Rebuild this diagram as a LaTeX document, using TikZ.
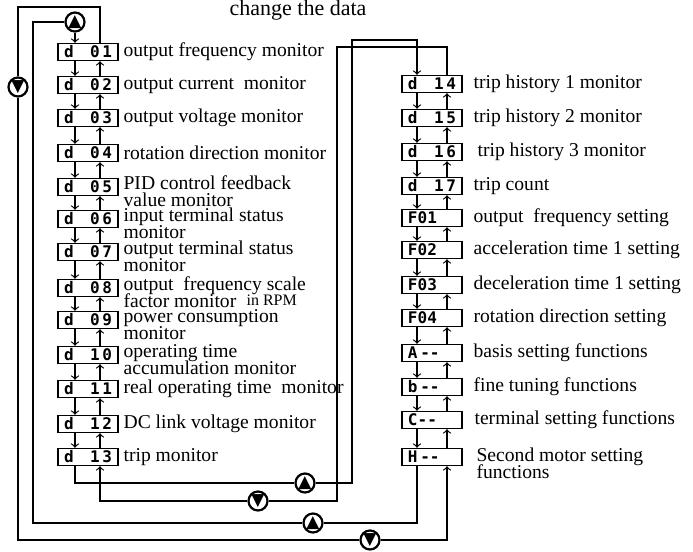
\documentclass[tikz,border=0pt]{standalone}
\usepackage{fontspec}
\setmainfont{Liberation Serif}
\newfontfamily\segfont{DejaVu Sans Mono}
\newfontfamily\symfont{DejaVu Sans}
\newcommand{\seg}[2]{\makebox[24pt]{#1\hfill#2}}
\newcommand{\lblfont}{\fontsize{9.8}{8.4}\selectfont\lineskiplimit=-10pt\relax}

\tikzset{
  disp/.style={draw, line width=0.7pt, minimum width=30pt, minimum height=8.5pt, inner sep=0pt,
    font=\segfont\bfseries\fontsize{8}{8}\selectfont},
  lbl/.style={anchor=west, inner sep=0pt, align=left, font=\lblfont},
  key/.style={circle, draw, line width=1.1pt, fill=white, minimum size=9.5pt, inner sep=0pt,
    font=\symfont\fontsize{8.5}{8.5}\selectfont}
}

\begin{document}
\begin{tikzpicture}[x=0.5pt,y=-0.5pt,line width=0.6pt]
\useasboundingbox (0,0) rectangle (693,552);
\node (title) at (298,15) [anchor=base, font=\fontsize{11}{11}\selectfont] {change the data};
% lanes
\coordinate (dnL) at (75,0);
\coordinate (upL) at (100,0);
\coordinate (dnR) at (417,0);
\coordinate (upR) at (447,0);
% left column
\node[disp] (d01) at (88,52) {\seg{d}{0\,1}};
\node[disp] (d02) at (88,85) {\seg{d}{0\,2}};
\node[disp] (d03) at (88,118) {\seg{d}{0\,3}};
\node[disp] (d04) at (88,153) {\seg{d}{0\,4}};
\node[disp] (d05) at (88,187) {\seg{d}{0\,5}};
\node[disp] (d06) at (88,219) {\seg{d}{0\,6}};
\node[disp] (d07) at (88,252) {\seg{d}{0\,7}};
\node[disp] (d08) at (88,288) {\seg{d}{0\,8}};
\node[disp] (d09) at (88,320) {\seg{d}{0\,9}};
\node[disp] (d10) at (88,355) {\seg{d}{1\,0}};
\node[disp] (d11) at (88,389) {\seg{d}{1\,1}};
\node[disp] (d12) at (88,424) {\seg{d}{1\,2}};
\node[disp] (d13) at (88,457) {\seg{d}{1\,3}};
\node (t01) at (123,52) [lbl] {output frequency monitor};
\node (t02) at (123,85) [lbl] {output current~ monitor};
\node (t03) at (123,118) [lbl] {output voltage monitor};
\node (t04) at (123,153) [lbl] {rotation direction monitor};
\node (t05) at (123,191.5) [lbl] {PID control feedback\\value monitor};
\node (t06) at (123,223.5) [lbl] {input terminal status\\monitor};
\node (t07) at (123,256.5) [lbl] {output terminal status\\monitor};
\node (t08) at (123,292) [lbl] {output~ frequency scale\\factor monitor};
\node (t09) at (123,324.5) [lbl] {power consumption\\monitor};
\node (t10) at (123,359.5) [lbl] {operating time\\accumulation monitor};
\node (t11) at (123,389) [lbl] {real operating time~ monitor};
\node (t12) at (123,424) [lbl] {DC link voltage monitor};
\node (t13) at (123,457) [lbl] {trip monitor};
\node (rpm) at (246,300) [lbl, font=\fontsize{8}{8}\selectfont] {in RPM};
% right column
\node[disp] (d14) at (432,84) {\seg{d}{1\,4}};
\node[disp] (d15) at (432,118) {\seg{d}{1\,5}};
\node[disp] (d16) at (432,152) {\seg{d}{1\,6}};
\node[disp] (d17) at (432,186) {\seg{d}{1\,7}};
\node[disp] (F01) at (432,218) {\seg{F01}{}};
\node[disp] (F02) at (432,250) {\seg{F02}{}};
\node[disp] (F03) at (432,285) {\seg{F03}{}};
\node[disp] (F04) at (432,318) {\seg{F04}{}};
\node[disp] (A) at (432,353) {\seg{A\,-{}-}{}};
\node[disp] (b) at (432,387) {\seg{b\,-{}-}{}};
\node[disp] (C) at (432,420) {\seg{C-{}-}{}};
\node[disp] (H) at (432,457) {\seg{H\,-{}-}{}};
\node (t14) at (473,84) [lbl] {trip history 1 monitor};
\node (t15) at (473,118) [lbl] {trip history 2 monitor};
\node (t16) at (477,152) [lbl] {trip history 3 monitor};
\node (t17) at (473,186) [lbl] {trip count};
\node (tF01) at (473,218) [lbl] {output~ frequency setting};
\node (tF02) at (473,250) [lbl] {acceleration time 1 setting};
\node (tF03) at (473,285) [lbl] {deceleration time 1 setting};
\node (tF04) at (473,318) [lbl] {rotation direction setting};
\node (tA) at (473,353) [lbl] {basis setting functions};
\node (tb) at (473,387) [lbl] {fine tuning functions};
\node (tC) at (474,420) [lbl] {terminal setting functions};
\node (tH) at (476,463) [lbl] {Second motor setting\\functions};
% steps inside the columns
\draw[->] (d01.south -| dnL) -- (d02.north -| dnL);
\draw[->] (d02.south -| dnL) -- (d03.north -| dnL);
\draw[->] (d03.south -| dnL) -- (d04.north -| dnL);
\draw[->] (d04.south -| dnL) -- (d05.north -| dnL);
\draw[->] (d05.south -| dnL) -- (d06.north -| dnL);
\draw[->] (d06.south -| dnL) -- (d07.north -| dnL);
\draw[->] (d07.south -| dnL) -- (d08.north -| dnL);
\draw[->] (d08.south -| dnL) -- (d09.north -| dnL);
\draw[->] (d09.south -| dnL) -- (d10.north -| dnL);
\draw[->] (d10.south -| dnL) -- (d11.north -| dnL);
\draw[->] (d11.south -| dnL) -- (d12.north -| dnL);
\draw[->] (d12.south -| dnL) -- (d13.north -| dnL);
\draw[->] (d02.north -| upL) -- (d01.south -| upL);
\draw[->] (d03.north -| upL) -- (d02.south -| upL);
\draw[->] (d04.north -| upL) -- (d03.south -| upL);
\draw[->] (d05.north -| upL) -- (d04.south -| upL);
\draw[->] (d06.north -| upL) -- (d05.south -| upL);
\draw[->] (d07.north -| upL) -- (d06.south -| upL);
\draw[->] (d08.north -| upL) -- (d07.south -| upL);
\draw[->] (d09.north -| upL) -- (d08.south -| upL);
\draw[->] (d10.north -| upL) -- (d09.south -| upL);
\draw[->] (d11.north -| upL) -- (d10.south -| upL);
\draw[->] (d12.north -| upL) -- (d11.south -| upL);
\draw[->] (d13.north -| upL) -- (d12.south -| upL);
\draw[->] (d14.south -| dnR) -- (d15.north -| dnR);
\draw[->] (d15.south -| dnR) -- (d16.north -| dnR);
\draw[->] (d16.south -| dnR) -- (d17.north -| dnR);
\draw[->] (d17.south -| dnR) -- (F01.north -| dnR);
\draw[->] (F01.south -| dnR) -- (F02.north -| dnR);
\draw[->] (F02.south -| dnR) -- (F03.north -| dnR);
\draw[->] (F03.south -| dnR) -- (F04.north -| dnR);
\draw[->] (F04.south -| dnR) -- (A.north -| dnR);
\draw[->] (A.south -| dnR) -- (b.north -| dnR);
\draw[->] (b.south -| dnR) -- (C.north -| dnR);
\draw[->] (C.south -| dnR) -- (H.north -| dnR);
\draw[->] (d15.north -| upR) -- (d14.south -| upR);
\draw[->] (d16.north -| upR) -- (d15.south -| upR);
\draw[->] (d17.north -| upR) -- (d16.south -| upR);
\draw[->] (F01.north -| upR) -- (d17.south -| upR);
\draw[->] (F02.north -| upR) -- (F01.south -| upR);
\draw[->] (F03.north -| upR) -- (F02.south -| upR);
\draw[->] (F04.north -| upR) -- (F03.south -| upR);
\draw[->] (A.north -| upR) -- (F04.south -| upR);
\draw[->] (b.north -| upR) -- (A.south -| upR);
\draw[->] (C.north -| upR) -- (b.south -| upR);
\draw[->] (H.north -| upR) -- (C.south -| upR);
% keys
\node[key] (kA) at (18,87) {▼};
\node[key] (kB) at (75,22) {▲};
\node[key] (kC) at (370,540) {▼};
\node[key] (kD) at (313,523) {▲};
\node[key] (kE) at (305,483) {▲};
\node[key] (kF) at (258,501) {▼};
\coordinate (c1) at (18,7);
\coordinate (c2) at (33,22);
\coordinate (c3) at (352,40);
\coordinate (c4) at (337,47);
% loops
\draw (d01.north -| upL) |- (c1) -- (kA);
\draw (kA) |- (kC);
\draw[->] (kC) -| (H.south -| upR);
\draw (H.south -| dnR) |- (kD) -| (c2) -- (kB);
\draw[->] (kB) -- (d01.north -| dnL);
\draw (d13.south -| dnL) |- (kE);
\draw[->] (kE) -| (c3) -| (d14.north -| dnR);
\draw (d14.north -| upR) |- (c4) |- (kF);
\draw[->] (kF) -| (d13.south -| upL);
\end{tikzpicture}
\end{document}
